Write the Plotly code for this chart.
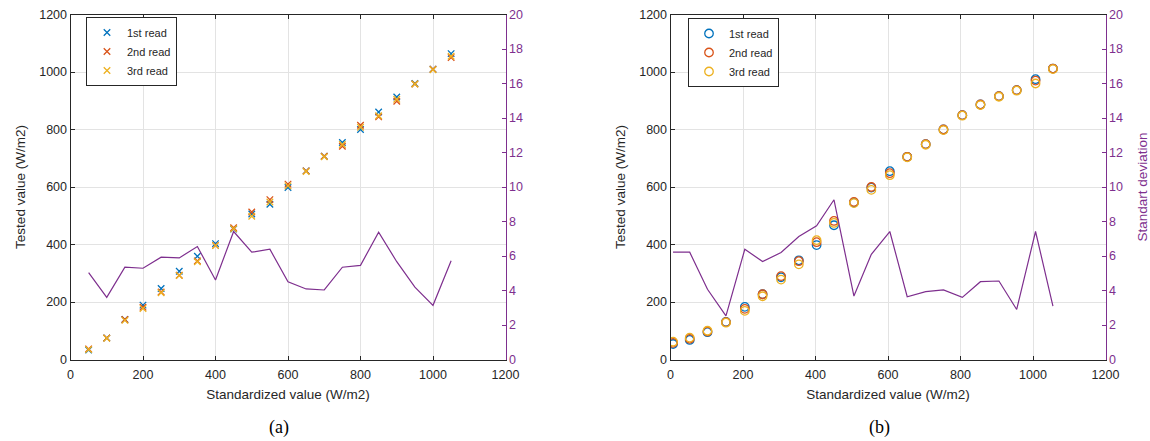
import plotly.graph_objects as go

W, H = 1150, 441

# ---------------- Panel (a) data ----------------
xa = [50, 100, 150, 200, 250, 300, 350, 400, 450, 500, 550,
      600, 650, 700, 750, 800, 850, 900, 950, 1000, 1050]
a_read1 = [33, 75, 139, 189, 247, 307, 359, 403, 454, 506, 540,
           598, 656, 707, 755, 800, 861, 913, 960, 1010, 1064]
a_read2 = [37, 75, 139, 182, 235, 293, 343, 397, 458, 513, 556,
           610, 656, 707, 742, 815, 844, 898, 958, 1010, 1050]
a_read3 = [35, 74, 136, 177, 232, 292, 340, 396, 455, 498, 548,
           604, 654, 705, 748, 808, 848, 905, 958, 1008, 1055]
a_std = [5.04, 3.6, 5.35, 5.29, 5.93, 5.89, 6.55, 4.61, 7.42, 6.22, 6.39,
         4.51, 4.09, 4.03, 5.35, 5.46, 7.38, 5.67, 4.19, 3.14, 5.72]

# ---------------- Panel (b) data ----------------
xb = [7, 53, 102, 153, 205, 254, 305, 354, 403, 451, 506,
      554, 605, 653, 704, 753, 805, 855, 906, 955, 1007, 1055]
b_read1 = [54, 68, 95, 131, 183, 227, 286, 345, 398, 467, 546,
           598, 655, 705, 749, 800, 850, 887, 916, 937, 975, 1012]
b_read2 = [58, 72, 97, 130, 176, 227, 290, 342, 408, 482, 548,
           600, 648, 705, 749, 800, 850, 887, 916, 937, 970, 1012]
b_read3 = [62, 76, 100, 128, 169, 220, 278, 331, 415, 475, 544,
           590, 641, 703, 747, 798, 848, 885, 914, 935, 960, 1010]
b_std = [6.22, 6.22, 4.07, 2.53, 6.39, 5.68, 6.2, 7.13, 7.75, 9.26, 3.68,
         6.1, 7.42, 3.64, 3.93, 4.03, 3.6, 4.51, 4.55, 2.9, 7.42, 3.1]

series_names = ["1st read", "2nd read", "3rd read"]
colors = ["#0072BD", "#D95319", "#EDB120"]
purple = "#7E2F8E"
axis_gray = "#262626"
grid_gray = "#E3E3E3"
FONT = "Liberation Sans, Arial, sans-serif"

fig = go.Figure()

# std lines (right axes)
fig.add_trace(go.Scatter(x=xa, y=a_std, mode="lines", line=dict(color=purple, width=1.2),
                         xaxis="x", yaxis="y2", showlegend=False))
fig.add_trace(go.Scatter(x=xb, y=b_std, mode="lines", line=dict(color=purple, width=1.2),
                         xaxis="x2", yaxis="y4", showlegend=False))

for name, ys, c in zip(series_names, [a_read1, a_read2, a_read3], colors):
    fig.add_trace(go.Scatter(x=xa, y=ys, mode="markers", name=name,
                             marker=dict(symbol="x-thin", size=6.5, color=c,
                                         line=dict(color=c, width=1.3)),
                             xaxis="x", yaxis="y", legend="legend"))
for name, ys, c in zip(series_names, [b_read1, b_read2, b_read3], colors):
    fig.add_trace(go.Scatter(x=xb, y=ys, mode="markers", name=name,
                             marker=dict(symbol="circle-open", size=8.5, color=c,
                                         line=dict(color=c, width=1.3)),
                             xaxis="x2", yaxis="y3", legend="legend2"))

def px_x(p):
    return p / W

def px_y(p):
    return 1 - p / H

yd = [px_y(359.5), px_y(14.5)]
tickfont = dict(family=FONT, size=12.5, color=axis_gray)

def xaxis_cfg(dom, anchor):
    return dict(domain=dom, anchor=anchor, range=[0, 1200], dtick=200, tick0=0,
                showline=True, linecolor=axis_gray, linewidth=1, mirror="ticks",
                ticks="inside", ticklen=4, tickcolor=axis_gray,
                showgrid=True, gridcolor=grid_gray, gridwidth=1, zeroline=False,
                tickfont=tickfont, automargin=False, ticklabelstandoff=3,
                title=dict(text="Standardized value (W/m2)",
                           font=dict(family=FONT, size=13.5, color=axis_gray), standoff=9))

def yleft_cfg(anchor):
    return dict(domain=yd, anchor=anchor, range=[0, 1200], dtick=200, tick0=0,
                showline=True, linecolor=axis_gray, linewidth=1,
                ticks="inside", ticklen=4, tickcolor=axis_gray,
                showgrid=True, gridcolor=grid_gray, gridwidth=1, zeroline=False,
                tickfont=tickfont, automargin=False,
                title=dict(text="Tested value (W/m2)",
                           font=dict(family=FONT, size=13.5, color=axis_gray), standoff=10))

def yright_cfg(anchor, overlay, title):
    cfg = dict(anchor=anchor, overlaying=overlay, side="right", range=[0, 20], dtick=2, tick0=0,
               showline=True, linecolor=purple, linewidth=1,
               ticks="inside", ticklen=4, tickcolor=purple,
               showgrid=False, zeroline=False, automargin=False,
               tickfont=dict(family=FONT, size=12.5, color=purple))
    if title:
        cfg["title"] = dict(text=title, font=dict(family=FONT, size=13.5, color=purple), standoff=15)
    return cfg

legend_common = dict(bgcolor="white", bordercolor=axis_gray, borderwidth=1,
                     font=dict(family=FONT, size=11, color=axis_gray),
                     xanchor="left", yanchor="top", tracegroupgap=0,
                     itemsizing="trace", itemwidth=30, entrywidth=68)

fig.update_layout(
    width=W, height=H,
    margin=dict(l=0, r=0, t=0, b=0, autoexpand=False),
    paper_bgcolor="white", plot_bgcolor="white",
    xaxis=xaxis_cfg([px_x(70.5), px_x(505.5)], "y"),
    yaxis=yleft_cfg("x"),
    yaxis2=yright_cfg("x", "y", None),
    xaxis2=xaxis_cfg([px_x(670.5), px_x(1105.5)], "y3"),
    yaxis3=yleft_cfg("x2"),
    yaxis4=yright_cfg("x2", "y3", "Standart deviation"),
    legend=dict(x=px_x(86), y=px_y(17), **legend_common),
    legend2=dict(x=px_x(688), y=px_y(18), **legend_common),
    showlegend=True,
    annotations=[
        dict(text="(a)", x=px_x(279), y=px_y(427), xref="paper", yref="paper",
             xanchor="center", yanchor="middle", showarrow=False,
             font=dict(family="Liberation Serif, Times New Roman, serif", size=18, color="black")),
        dict(text="(b)", x=px_x(879), y=px_y(427), xref="paper", yref="paper",
             xanchor="center", yanchor="middle", showarrow=False,
             font=dict(family="Liberation Serif, Times New Roman, serif", size=18, color="black")),
    ],
)

fig.write_html("out.html", config={"displayModeBar": False},
               post_script="document.body.style.margin='0';document.body.style.padding='0';")
